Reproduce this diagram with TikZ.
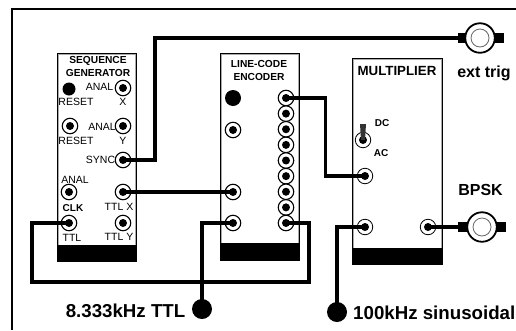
\documentclass[tikz,border=0pt]{standalone}
\usepackage{fontspec}
\setmainfont{Liberation Sans}
\usepackage{xcolor}
\usetikzlibrary{positioning,calc}
\definecolor{panelgray}{RGB}{170,170,170}
\tikzset{
  modbox/.style={draw=black, line width=2pt, fill=white, inner sep=0pt},
  modinner/.style={draw=panelgray, line width=1pt},
  modbar/.style={fill=black, inner sep=0pt},
  sockt/.style={circle, draw=black, line width=1.1pt, fill=white, minimum size=15.5pt, inner sep=0pt,
    path picture={\fill[black] (path picture bounding box.center) circle (4pt);}},
  blob/.style={circle, fill=black, inner sep=0pt},
  bnc/.style={circle, draw=black, line width=1.8pt, fill=white, minimum size=29.5pt, inner sep=0pt,
    path picture={\draw[black!60, line width=0.8pt] (path picture bounding box.center) circle (9pt);}},
  tab/.style={fill=black, minimum width=11pt, minimum height=10pt, inner sep=0pt},
  wire/.style={line width=3.8pt, line cap=rect, line join=miter},
  frameln/.style={line width=2.2pt},
  small/.style={font=\fontsize{10.5}{11}\selectfont, inner sep=0pt},
  smallb/.style={font=\fontsize{10}{11}\selectfont\bfseries, inner sep=0pt},
  modtitle/.style={font=\fontsize{10.2}{13}\selectfont\bfseries, inner sep=0pt, align=center},
  biglabel/.style={font=\fontsize{18.7}{20}\selectfont\bfseries, inner sep=0pt},
  midlabel/.style={font=\fontsize{16}{18}\selectfont\bfseries, inner sep=0pt},
}
\begin{document}
\begin{tikzpicture}[x=1pt,y=-1pt]
  \useasboundingbox (0,0) rectangle (516,330);
  \coordinate (framebl) at (12,330);
  \coordinate (frametl) at (12,9);
  \coordinate (frametr) at (516,9);
  \draw[frameln] (framebl) -- (frametl) -- (frametr);

  \node[modbox, minimum width=78pt, minimum height=207pt] (seqmod) at (97,157) {};
  \node[modbox, minimum width=78pt, minimum height=206pt] (lcemod) at (259.5,157) {};
  \node[modbox, minimum width=89pt, minimum height=205pt] (mulmod) at (397,161) {};
  \foreach \m in {seqmod,lcemod,mulmod} {
    \draw[modinner] ($(\m.north west)+(1.5,1.5)$) rectangle ($(\m.south east)+(-1.5,-1.5)$);
  }
  \node[modbar, minimum width=80pt, minimum height=16pt] (seqbar) at (97,253) {};
  \node[modbar, minimum width=80pt, minimum height=17pt] (lcebar) at (259.5,251.5) {};
  \node[modbar, minimum width=91pt, minimum height=16pt] (mulbar) at (397,256) {};

  \node[modtitle] (seqtitle) at (98,66.5) {SEQUENCE\\GENERATOR};
  \node[modtitle] (lcetitle) at (259,70.5) {LINE-CODE\\ENCODER};
  \node[font=\fontsize{13.3}{14}\selectfont\bfseries, inner sep=0pt] (multitle) at (397,71) {MULTIPLIER};

  \node[blob, minimum size=13pt] (seqdot) at (69,89) {};
  \node[sockt] (seqx) at (123,88) {};
  \node[sockt] (seqreset) at (70,126) {};
  \node[sockt] (seqy) at (123,126) {};
  \node[sockt] (seqsync) at (123,160) {};
  \node[sockt] (seqanal) at (69,192) {};
  \node[sockt] (seqttlx) at (123,192) {};
  \node[sockt] (seqclk) at (69,223) {};
  \node[sockt] (seqttly) at (123,223) {};

  \node[small] at (99.5,87) {ANAL};
  \node[small] at (76,102) {RESET};
  \node[small] at (123,102) {X};
  \node[small] at (102,127) {ANAL};
  \node[small] at (76,141) {RESET};
  \node[small] at (123,141) {Y};
  \node[small] at (100.5,160) {SYNC};
  \node[small] at (75,180) {ANAL};
  \node[smallb] at (73,208) {CLK};
  \node[small] at (72,238) {TTL};
  \node[small] at (119,207) {TTL X};
  \node[small] at (119,237) {TTL Y};

  \node[blob, minimum size=16pt] (lcedot) at (233,98) {};
  \node[sockt] (lcea) at (233,130) {};
  \node[sockt] (lceb) at (233,192) {};
  \node[sockt] (lcec) at (233,223) {};
  \foreach \r in {0,...,8} {
    \node[sockt] (lcer\r) at (286,98+\r*15.625) {};
  }

  \node[sockt, line width=0.8pt] (mulswitch) at (363,140) {};
  \fill[black!80] (360,124) -- (366,124) -- (365,140) -- (361,140) -- cycle;
  \node[sockt, line width=0.8pt] (mula) at (365,176) {};
  \node[sockt, line width=0.8pt] (mulb) at (365,227) {};
  \node[sockt, line width=0.8pt] (mulc) at (428,227) {};
  \node[smallb] at (382,123) {DC};
  \node[smallb] at (381,153) {AC};

  \node[tab] (trigl) at (463,38) {};
  \node[tab] (trigr) at (498,38) {};
  \node[bnc] (trig) at (480,38) {};
  \node[midlabel] at (484,73) {ext trig};
  \node[tab] (bpskl) at (463,227) {};
  \node[tab] (bpskr) at (500,227) {};
  \node[bnc] (bpsk) at (482,227) {};
  \node[midlabel] at (480.5,190) {BPSK};

  \node[blob, minimum size=20pt] (ttlin) at (202,309) {};
  \node[blob, minimum size=20pt] (sinein) at (337,312) {};
  \node[biglabel, anchor=east] at (185.5,311) {8.333kHz TTL};
  \node[biglabel, anchor=west] at (353,313) {100kHz sinusoidal};

  \draw[wire] (seqsync.center) -| (155,38) -- (trigl.center);
  \draw[wire] (seqttlx.center) -- (lceb.center);
  \draw[wire] (seqclk.center) -- (32,223) -- (32,282) -- (309,282) -- (309,223) -- (lcer8.center);
  \draw[wire] (lcec.center) -- (202,223) -- (ttlin.center);
  \draw[wire] (lcer0.center) -- (325.5,98) -- (325.5,176) -- (mula.center);
  \draw[wire] (mulb.center) -- (337,227) -- (sinein.center);
  \draw[wire] (mulc.center) -- (bpskl.center);
\end{tikzpicture}
\end{document}
